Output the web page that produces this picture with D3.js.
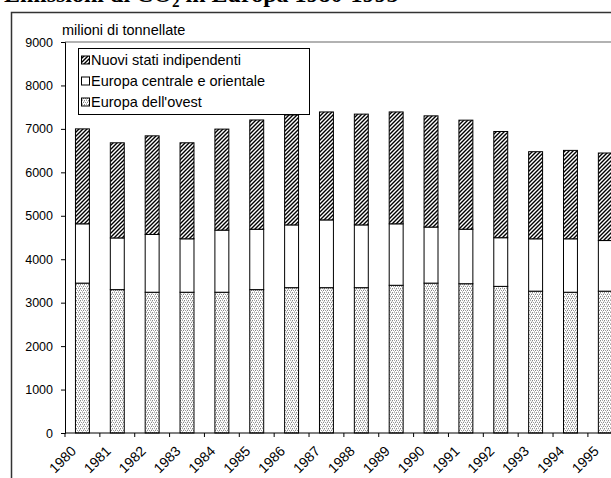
<!DOCTYPE html>
<html>
<head>
<meta charset="utf-8">
<script src="https://cdn.jsdelivr.net/npm/d3@7"></script>
<style>
  html, body { margin: 0; padding: 0; background: #fff; }
  svg { display: block; }
</style>
</head>
<body>
<svg id="chart" width="611" height="478"></svg>
<script>
// CO2 emissions by region, million tonnes
const years = ["1980","1981","1982","1983","1984","1985","1986","1987","1988","1989","1990","1991","1992","1993","1994","1995"];
const europaOvest   = [3450, 3300, 3240, 3240, 3240, 3300, 3345, 3345, 3345, 3400, 3450, 3436, 3375, 3265, 3240, 3265];
const europaCentro  = [1365, 1190, 1330, 1230, 1430, 1390, 1445, 1560, 1445, 1415, 1290, 1255, 1120, 1205, 1230, 1165];
const nuoviStati    = [2185, 2190, 2270, 2210, 2325, 2515, 2530, 2485, 2550, 2575, 2560, 2510, 2445, 2005, 2035, 2015];
const yTicks = [0, 1000, 2000, 3000, 4000, 5000, 6000, 7000, 8000, 9000];
const seriesNames = ["Europa dell'ovest", "Europa centrale e orientale", "Nuovi stati indipendenti"];
const legendOrder = ["Nuovi stati indipendenti", "Europa centrale e orientale", "Europa dell'ovest"];

const svg = d3.select("#chart");
const font = "'Liberation Sans', Arial, sans-serif";

// fill patterns
const defs = svg.append("defs");
const hatch = defs.append("pattern")
  .attr("id", "hatch").attr("patternUnits", "userSpaceOnUse")
  .attr("width", 4).attr("height", 4);
hatch.append("rect").attr("width", 4).attr("height", 4).attr("fill", "#fff");
hatch.append("path").attr("d", "M-1,1 l2,-2 M0,4 l4,-4 M3,5 l2,-2")
  .attr("stroke", "#000").attr("stroke-width", 1.4);

const dots = defs.append("pattern")
  .attr("id", "dots").attr("patternUnits", "userSpaceOnUse")
  .attr("width", 4).attr("height", 4);
dots.append("rect").attr("width", 4).attr("height", 4).attr("fill", "#fff");
[[0, 0, "#888"], [2, 0, "#aaa"], [1, 2, "#999"], [3, 2, "#888"], [2, 3, "#c8c8c8"], [0, 1, "#d0d0d0"], [3, 1, "#ddd"]]
  .forEach(([px, py, c]) => dots.append("rect")
    .attr("x", px).attr("y", py).attr("width", 1).attr("height", 1).attr("fill", c));

const fills = {
  "Europa dell'ovest": "url(#dots)",
  "Europa centrale e orientale": "#fff",
  "Nuovi stati indipendenti": "url(#hatch)"
};

// title (runs off the top of the page)
const title = svg.append("text")
  .attr("x", 4).attr("y", 2)
  .attr("font-family", "'Liberation Serif', 'Times New Roman', serif")
  .attr("font-weight", "bold").attr("font-size", 24).attr("fill", "#000");
title.append("tspan").text("Emissioni di CO");
title.append("tspan").attr("font-size", 15).attr("dy", 5).text("2");
title.append("tspan").attr("dy", -5).text(" in Europa 1980-1995");

// chart frame
svg.append("path")
  .attr("d", "M11.5,480 V12.5 H620")
  .attr("fill", "none").attr("stroke", "#333").attr("stroke-width", 1.5);

const x0 = 65, y0 = 433, y9 = 42;
const band = 34.86;
const x = d3.scaleBand().domain(years).range([x0, x0 + band * years.length]).paddingInner(0.6).paddingOuter(0.3);
const y = d3.scaleLinear().domain([0, 9000]).range([y0, y9]);

// plot area top border
svg.append("line")
  .attr("x1", x0).attr("x2", 620).attr("y1", y(9000)).attr("y2", y(9000))
  .attr("stroke", "#999").attr("stroke-width", 1.5);

// stacked bars
const rows = years.map((yr, i) => ({
  year: yr,
  "Europa dell'ovest": europaOvest[i],
  "Europa centrale e orientale": europaCentro[i],
  "Nuovi stati indipendenti": nuoviStati[i]
}));
const stacked = d3.stack().keys(seriesNames)(rows);

svg.append("g").selectAll("g").data(stacked).join("g")
  .attr("fill", d => fills[d.key])
  .selectAll("rect").data(d => d).join("rect")
  .attr("x", d => x(d.data.year))
  .attr("width", x.bandwidth())
  .attr("y", d => y(d[1]))
  .attr("height", d => y(d[0]) - y(d[1]))
  .attr("stroke", "#000").attr("stroke-width", 1);

// y axis
const yAxis = svg.append("g")
  .attr("transform", `translate(${x0},0)`)
  .call(d3.axisLeft(y).tickValues(yTicks).tickFormat(d3.format("d")).tickSize(4).tickPadding(8));
yAxis.select(".domain").attr("stroke", "#000");
yAxis.selectAll(".tick line").attr("stroke", "#000");
yAxis.selectAll("text").attr("font-family", font).attr("font-size", 12.5).attr("fill", "#000");

// x axis: ticks between categories, rotated labels
const xAxisG = svg.append("g").attr("transform", `translate(0,${y0})`);
xAxisG.append("line").attr("x1", x0).attr("x2", 620).attr("stroke", "#000");
const xTickPos = d3.range(years.length + 1).map(i => x0 + i * band);
xAxisG.selectAll("line.tk").data(xTickPos).join("line").attr("class", "tk")
  .attr("x1", d => d).attr("x2", d => d).attr("y1", 0).attr("y2", 4).attr("stroke", "#000");
xAxisG.selectAll("text").data(years).join("text")
  .attr("transform", d => `translate(${x(d) + x.bandwidth() / 2 - 5.5},${19}) rotate(-45)`)
  .attr("text-anchor", "end")
  .attr("font-family", font).attr("font-size", 14).attr("fill", "#000")
  .text(d => d);

// axis unit
svg.append("text")
  .attr("x", 62).attr("y", 35)
  .attr("font-family", font).attr("font-size", 14.5).attr("fill", "#000")
  .text("milioni di tonnellate");

// legend
const lg = svg.append("g");
lg.append("rect")
  .attr("x", 78.5).attr("y", 48.5).attr("width", 231).attr("height", 66)
  .attr("fill", "#fff").attr("stroke", "#000").attr("stroke-width", 1);
legendOrder.forEach((name, i) => {
  const cy = 60 + i * 21;
  lg.append("rect")
    .attr("x", 81.5).attr("y", cy - 4).attr("width", 8).attr("height", 8)
    .attr("fill", fills[name]).attr("stroke", "#000").attr("stroke-width", 1);
  lg.append("text")
    .attr("x", 91).attr("y", cy + 5)
    .attr("font-family", font).attr("font-size", 14.5).attr("fill", "#000")
    .text(name);
});
</script>
</body>
</html>
